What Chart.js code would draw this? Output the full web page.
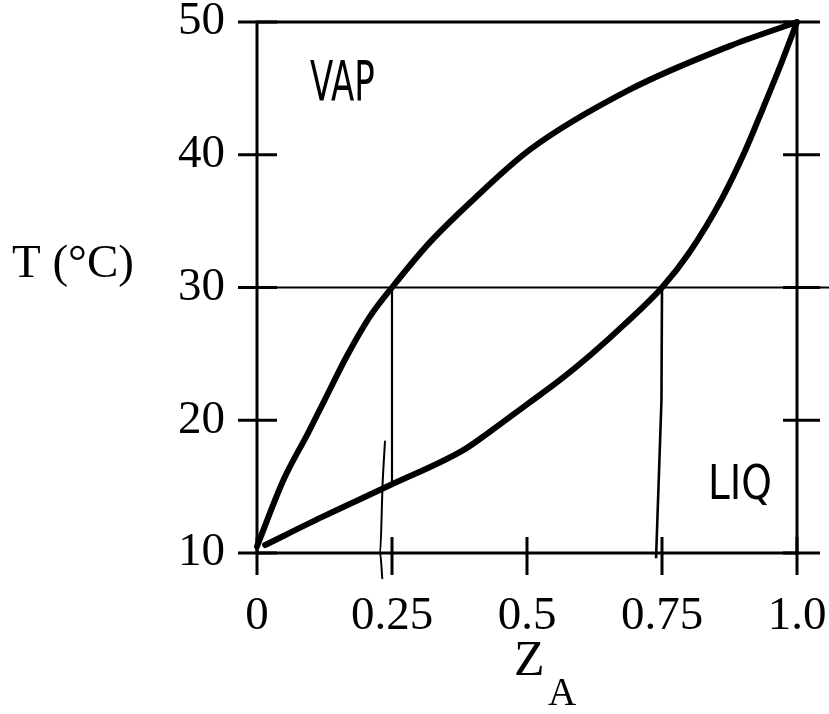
<!DOCTYPE html>
<html><head><meta charset="utf-8">
<script src="https://cdn.jsdelivr.net/npm/chart.js@4/dist/chart.umd.min.js"></script>
<style>html,body{margin:0;padding:0;background:#fff;} #wrap{width:829px;height:714px;}</style>
</head><body><div id="wrap"><canvas id="c" width="829" height="714"></canvas></div>
<script>
// Axis ticks
const xTickValues = [0, 0.25, 0.5, 0.75, 1.0];
const xTickLabels = ['0', '0.25', '0.5', '0.75', '1.0'];
const yTickValues = [10, 20, 30, 40, 50];
const yTickLabels = ['10', '20', '30', '40', '50'];

// Vapour (dew) curve
const vapZ = [0, 0.049, 0.094, 0.125, 0.166, 0.209, 0.25, 0.32, 0.40, 0.506, 0.69, 0.876, 1.0];
const vapT = [10.5, 15.5, 19.0, 21.5, 24.8, 27.8, 30.0, 33.4, 36.6, 40.4, 44.9, 48.2, 50];

// Liquid (bubble) curve
const liqZ = [0.015, 0.12, 0.246, 0.382, 0.43, 0.5, 0.56, 0.617, 0.68, 0.75, 0.80, 0.861, 0.904, 0.937, 0.97, 1.0];
const liqT = [10.6, 12.7, 15.1, 17.75, 19.1, 21.2, 23.0, 24.9, 27.2, 30.0, 32.6, 36.7, 40.3, 43.5, 46.8, 50];

// Tie line at T = 30
const tieZ = [-0.035, 1.06];
const tieT = [30, 30];

// Drop lines
const dropLeftZ = [0.25, 0.25];
const dropLeftT = [30, 15.1];
const handLeftZ = [0.237, 0.2327, 0.228, 0.232];
const handLeftT = [18.4, 15.3, 10.0, 8.1];
const dropRightZ = [0.75, 0.749, 0.739];
const dropRightT = [30, 21.5, 9.6];

// Hand-written labels (data coordinates of left/baseline)
const noteText = ['VAP', 'LIQ'];
const noteZ = [0.098, 0.835];
const noteT = [44.1, 14.1];

const pts = (xs, ys) => xs.map((v, i) => ({x: v, y: ys[i]}));
const serif = '"Liberation Serif", "Times New Roman", serif';

const framePlugin = {
  id: 'frame',
  afterDatasetsDraw(chart) {
    const {ctx, chartArea: a, scales: {x, y}} = chart;
    ctx.save();
    ctx.strokeStyle = '#000';
    ctx.lineWidth = 3;
    ctx.strokeRect(a.left, a.top, a.right - a.left, a.bottom - a.top);
    ctx.beginPath();
    yTickValues.forEach(v => {
      const py = y.getPixelForValue(v);
      ctx.moveTo(a.left - 19, py); ctx.lineTo(a.left + 20, py);
      ctx.moveTo(a.right - 14, py); ctx.lineTo(a.right + 23, py);
    });
    xTickValues.forEach(v => {
      const px = x.getPixelForValue(v);
      ctx.moveTo(px, a.bottom - 16); ctx.lineTo(px, a.bottom + 22);
    });
    ctx.stroke();

    // axis titles
    ctx.fillStyle = '#000';
    ctx.textBaseline = 'alphabetic';
    ctx.textAlign = 'left';
    ctx.font = '47px ' + serif;
    ctx.fillText('T (°C)', 12, 277);
    ctx.font = '50px ' + serif;
    ctx.fillText('Z', 514, 675);
    ctx.font = '39px ' + serif;
    ctx.fillText('A', 548, 705);

    // hand-written notes
    noteText.forEach((t, i) => {
      const px = x.getPixelForValue(noteZ[i]);
      const py = y.getPixelForValue(noteT[i]);
      ctx.save();
      ctx.translate(px, py);
      if (i === 0) { ctx.scale(1.0, 1.6); ctx.font = '34px "DejaVu Sans"'; }
      else { ctx.scale(1.0, 1.25); ctx.font = '39px "DejaVu Sans"'; }
      ctx.fillText(t, 0, 0);
      ctx.restore();
    });
    ctx.restore();
  }
};

const lineDs = (data, w, extra) => Object.assign({
  data, showLine: true, borderColor: '#000', backgroundColor: '#000',
  borderWidth: w, pointRadius: 0, clip: false, fill: false,
  borderCapStyle: 'round', borderJoinStyle: 'round'
}, extra || {});

new Chart(document.getElementById('c'), {
  type: 'scatter',
  data: {
    datasets: [
      lineDs(pts(vapZ, vapT), 6, {cubicInterpolationMode: 'monotone'}),
      lineDs(pts(liqZ, liqT), 6, {cubicInterpolationMode: 'monotone'}),
      lineDs(pts(tieZ, tieT), 2.2, {borderCapStyle: 'butt'}),
      lineDs(pts(dropLeftZ, dropLeftT), 2.2, {borderCapStyle: 'butt'}),
      lineDs(pts(handLeftZ, handLeftT), 2, {cubicInterpolationMode: 'monotone'}),
      lineDs(pts(dropRightZ, dropRightT), 2.6, {borderCapStyle: 'butt'})
    ]
  },
  options: {
    responsive: false, animation: false, devicePixelRatio: 1,
    layout: {padding: {top: 22, right: 32, left: 0, bottom: 0}},
    plugins: {legend: {display: false}, tooltip: {enabled: false}},
    scales: {
      x: {
        type: 'linear', min: 0, max: 1,
        grid: {display: false, drawTicks: false}, border: {display: false},
        afterBuildTicks: s => { s.ticks = xTickValues.map(v => ({value: v})); },
        ticks: {callback: (v, i) => xTickLabels[i], padding: 35, color: '#000',
                font: {family: serif, size: 47}, maxRotation: 0, autoSkip: false},
        afterFit: s => { s.height = 161; s.paddingLeft = 0; s.paddingRight = 0; }
      },
      y: {
        type: 'linear', min: 10, max: 50,
        grid: {display: false, drawTicks: false}, border: {display: false},
        afterBuildTicks: s => { s.ticks = yTickValues.map(v => ({value: v})); },
        ticks: {callback: (v, i) => yTickLabels[i], padding: 32, color: '#000',
                font: {family: serif, size: 47}, autoSkip: false},
        afterFit: s => { s.width = 257; s.paddingTop = 0; s.paddingBottom = 0; }
      }
    }
  },
  plugins: [framePlugin]
});
</script>
</body></html>
